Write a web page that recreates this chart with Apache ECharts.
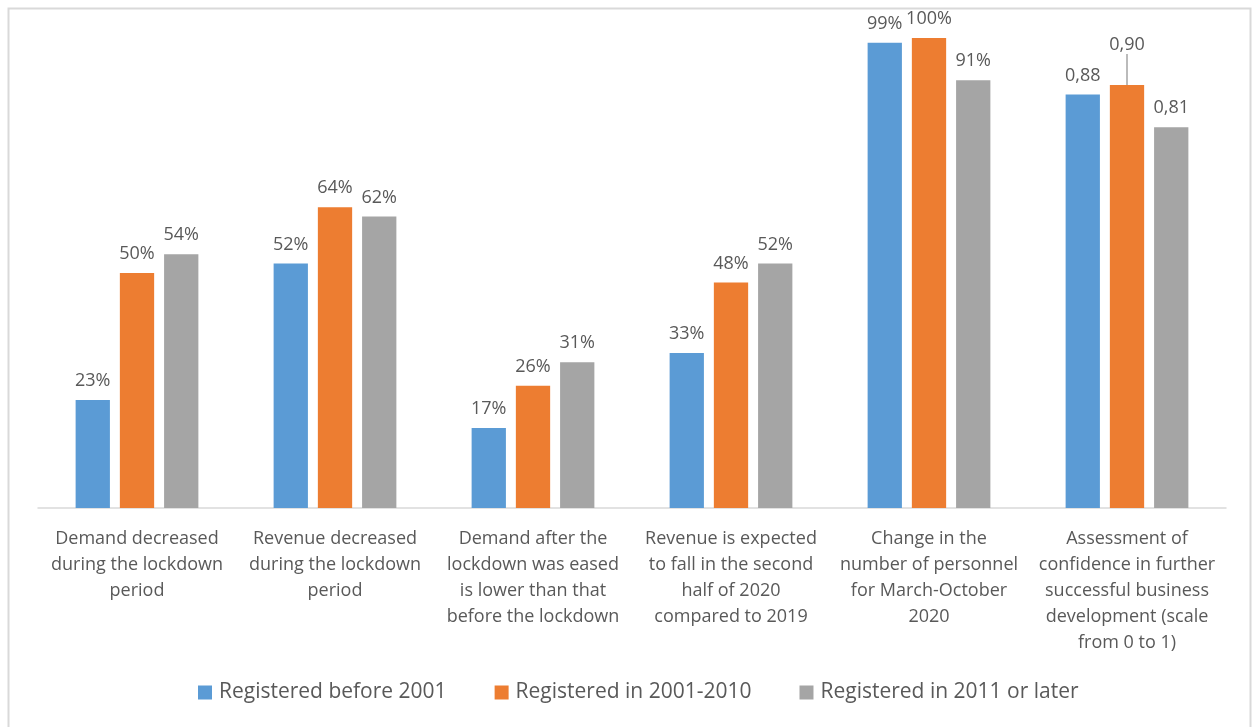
<!DOCTYPE html>
<html>
<head>
<meta charset="utf-8">
<script src="https://cdn.jsdelivr.net/npm/echarts@6/dist/echarts.min.js"></script>
<style>
html,body{margin:0;padding:0;background:#fff;}
#chart{width:1255px;height:727px;}
</style>
</head>
<body>
<div id="chart"></div>
<script>
const categories = [
  "Demand decreased\nduring the lockdown\nperiod",
  "Revenue decreased\nduring the lockdown\nperiod",
  "Demand after the\nlockdown was eased\nis lower than that\nbefore the lockdown",
  "Revenue is expected\nto fall in the second\nhalf of 2020\ncompared to 2019",
  "Change in the\nnumber of personnel\nfor March-October\n2020",
  "Assessment of\nconfidence in further\nsuccessful business\ndevelopment (scale\nfrom 0 to 1)"
];
const seriesNames = ["Registered before 2001", "Registered in 2001-2010", "Registered in 2011 or later"];
const before2001 = [0.23, 0.52, 0.17, 0.33, 0.99, 0.88];
const in2001_2010 = [0.50, 0.64, 0.26, 0.48, 1.00, 0.90];
const after2011 = [0.54, 0.62, 0.31, 0.52, 0.91, 0.81];
const colors = ["#5B9BD5", "#ED7D31", "#A5A5A5"];
const FONT = "Open Sans";
const TXT = "#595959";

function fmt(p) {
  if (p.dataIndex === 5) return p.value.toFixed(2).replace('.', ',');
  return Math.round(p.value * 100) + '%';
}

function mkSeries(name, data, idx) {
  return {
    name: name,
    type: 'bar',
    data: data.map((v, i) => {
      const d = { value: v };
      if (idx === 1 && i === 5) {
        d.labelLine = { show: true, lineStyle: { color: '#A5A5A5', width: 1.5 } };
      }
      return d;
    }),
    itemStyle: { color: colors[idx] },
    barGap: '29%',
    barCategoryGap: '38%',
    label: {
      show: true, position: 'top', distance: 10,
      fontFamily: FONT, fontSize: 18, color: TXT,
      formatter: fmt
    },
    labelLine: { show: false },
    labelLayout: function (params) {
      if (idx === 1 && params.dataIndex === 5) {
        return { dy: -21 };
      }
      return {};
    }
  };
}

const chart = echarts.init(document.getElementById('chart'), null, { renderer: 'canvas' });
chart.setOption({
  animation: false,
  backgroundColor: '#fff',
  graphic: [{
    type: 'rect', silent: true,
    shape: { x: 8.5, y: 8.5, width: 1242, height: 760 },
    style: { fill: 'none', stroke: '#D9D9D9', lineWidth: 2 }
  }],
  grid: { left: 38, right: 29, top: 38, bottom: 219, containLabel: false },
  legend: {
    data: seriesNames,
    bottom: 19,
    left: 193,
    itemWidth: 14, itemHeight: 14, itemGap: 48,
    icon: 'rect',
    textStyle: { fontFamily: FONT, fontSize: 21, color: TXT, padding: [0, 0, 0, 2] }
  },
  xAxis: {
    type: 'category',
    data: categories,
    axisLine: { lineStyle: { color: '#D9D9D9', width: 1.5 } },
    axisTick: { show: false },
    axisLabel: {
      interval: 0, margin: 18,
      fontFamily: FONT, fontSize: 18, color: TXT, lineHeight: 26, align: 'center'
    }
  },
  yAxis: {
    type: 'value', min: 0, max: 1, show: false,
    splitLine: { show: false }
  },
  series: [
    mkSeries(seriesNames[0], before2001, 0),
    mkSeries(seriesNames[1], in2001_2010, 1),
    mkSeries(seriesNames[2], after2011, 2)
  ]
});
</script>
</body>
</html>
